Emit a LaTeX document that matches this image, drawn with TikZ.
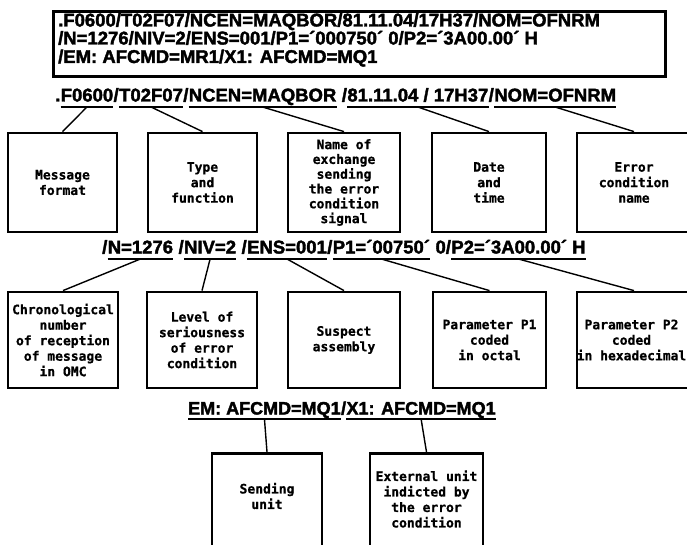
\documentclass[tikz,border=0pt]{standalone}
\usepackage{fontspec}
\setmainfont{Liberation Sans}[BoldFeatures={FakeBold=2}]
\newfontfamily\monofont{DejaVu Sans Mono}[BoldFeatures={FakeBold=0.8}]
\begin{document}
\begin{tikzpicture}[x=1pt,y=-1pt,
  seg/.style={inner sep=0pt, anchor=base west, font=\bfseries\fontsize{18.5}{18.5}\selectfont},
  segc/.style={seg, font=\bfseries\fontsize{18}{18}\selectfont},
  frame/.style={draw, line width=2.8pt, inner sep=0pt},
  box/.style={frame, font=\monofont\bfseries\fontsize{13}{15.5}\selectfont, align=center},
  boxtext/.style={inner sep=0pt, font=\monofont\bfseries\fontsize{13}{15.5}\selectfont, align=center},
  uline/.style={line width=1.6pt},
  link/.style={line width=1.4pt},
]
\useasboundingbox (0,0) rectangle (687,545);
\fill[white] (0,0) rectangle (687,545);
\clip (0,0) rectangle (687,545);

% ---- message in frame
\node[frame, anchor=north west, minimum width=612, minimum height=65] (msgbox) at (52,10) {};
\node[seg] (msg1) at (58,26.5) {.F0600/T02F07/NCEN=MAQBOR/81.11.04/17H37/NOM=OFNRM};
\node[seg] (msg2) at (58,44.5) {/N=1276/NIV=2/ENS=001/P1=´000750´ 0/P2=´3A00.00´ H};
\node[seg] (msg3) at (58,63) {/EM: AFCMD=MR1/X1: AFCMD=MQ1};

% ---- line A
\node[seg] (la0) at (55,101.5) {.};
\node[seg] (la1) at (la0.base east) {F0600};
\node[seg] (la2) at (la1.base east) {/};
\node[seg] (la3) at (la2.base east) {T02F07};
\node[seg] (la4) at (la3.base east) {/};
\node[seg] (la5) at (la4.base east) {NCEN=MAQBOR};
\node[seg] (la6) at (la5.base east) {\ /\ };
\node[seg] (la7) at (la6.base east) {81.11.04 / 17H37};
\node[seg] (la8) at (la7.base east) {/};
\node[seg] (la9) at (la8.base east) {NOM=OFNRM};
\foreach \n in {la1,la3,la5,la7,la9}
  \draw[uline] ([yshift=-5.5pt]\n.base west) -- ([yshift=-5.5pt]\n.base east);

% ---- row 1 boxes
\node[box, minimum width=109, minimum height=99] (ra1) at (62.5,182.5) {Message\\format};
\node[box, minimum width=109, minimum height=99] (ra2) at (202.5,182.5) {Type\\and\\function};
\node[box, minimum width=112, minimum height=99, font=\monofont\bfseries\fontsize{13}{14.8}\selectfont] (ra3) at (344,182.5) {Name of\\exchange\\sending\\the error\\condition\\signal};
\node[box, minimum width=114, minimum height=99] (ra4) at (489,182.5) {Date\\and\\time};
\node[box, minimum width=114, minimum height=99] (ra5) at (634,182.5) {Error\\condition\\name};
\draw[link] ([yshift=-5.5pt]la1.base) -- (ra1.north);
\draw[link] ([yshift=-5.5pt]la3.base) -- (ra2.north);
\draw[link] ([yshift=-5.5pt]la5.base) -- (ra3.north);
\draw[link] ([yshift=-5.5pt]la7.base) -- (ra4.north);
\draw[link] ([yshift=-5.5pt]la9.base) -- (ra5.north);

% ---- line B
\node[seg] (lb0) at (102,253.5) {/};
\node[seg] (lb1) at (lb0.base east) {N=1276};
\node[seg] (lb2) at (lb1.base east) {\ /};
\node[seg] (lb3) at (lb2.base east) {NIV=2};
\node[seg] (lb4) at (lb3.base east) {\ /};
\node[seg] (lb5) at (lb4.base east) {ENS=001};
\node[seg] (lb6) at (lb5.base east) {/};
\node[seg] (lb7) at (lb6.base east) {P1=´00750´};
\node[seg] (lb8) at (lb7.base east) {\ 0/};
\node[seg] (lb9) at (lb8.base east) {P2=´3A00.00´ H};
\foreach \n in {lb1,lb3,lb5,lb7,lb9}
  \draw[uline] ([yshift=-5.5pt]\n.base west) -- ([yshift=-5.5pt]\n.base east);

% ---- row 2 boxes
\node[box, minimum width=110, minimum height=96] (rb1) at (63,340) {Chronological\\number\\of reception\\of message\\in OMC};
\node[box, minimum width=110, minimum height=96] (rb2) at (202,340) {Level of\\seriousness\\of error\\condition};
\node[box, minimum width=112, minimum height=96] (rb3) at (344,340) {Suspect\\assembly};
\node[box, minimum width=113, minimum height=96] (rb4) at (489.5,340) {Parameter P1\\coded\\in octal};
\node[frame, minimum width=114, minimum height=96] (rb5) at (634,340) {};
\node[boxtext] (tb5) at (631.5,340) {Parameter P2\\coded\\in hexadecimal};
\draw[link] ([yshift=-5.5pt]lb1.base) -- (rb1.north);
\draw[link] ([yshift=-5.5pt]lb3.base) -- (rb2.north);
\draw[link] ([yshift=-5.5pt]lb5.base) -- (rb3.north);
\draw[link] ([yshift=-5.5pt]lb7.base) -- (rb4.north);
\draw[link] ([yshift=-5.5pt]lb9.base) -- (rb5.north);

% ---- line C
\node[segc] (lc1) at (188,414.5) {EM: AFCMD=MQ1};
\node[segc] (lc2) at (lc1.base east) {/\ };
\node[segc] (lc3) at (lc2.base east) {X1: AFCMD=MQ1};
\foreach \n in {lc1,lc3}
  \draw[uline] ([yshift=-4.5pt]\n.base west) -- ([yshift=-4.5pt]\n.base east);

% ---- bottom boxes
\node[frame, anchor=north, minimum width=110, minimum height=110] (rc1) at (267,452) {};
\node[frame, anchor=north, minimum width=113, minimum height=110] (rc2) at (426.5,452) {};
\node[boxtext] (tc1) at (267,496) {Sending\\unit};
\node[boxtext] (tc2) at (426.5,499) {External unit\\indicted by\\the error\\condition};
\draw[link] ([yshift=-4.5pt]lc1.base) -- (rc1.north);
\draw[link] ([yshift=-4.5pt]lc3.base) -- (rc2.north);
\end{tikzpicture}
\end{document}
